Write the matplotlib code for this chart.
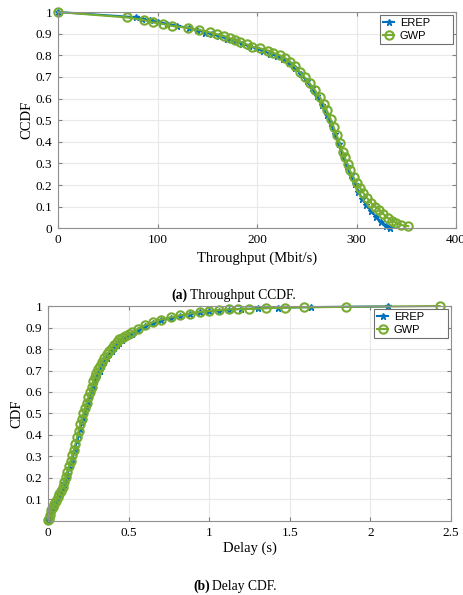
import matplotlib
matplotlib.use('Agg')
import matplotlib.pyplot as plt

# throughput CCDF
thr_erep = [0, 78, 84, 92, 100, 110, 120, 132, 140, 148, 155, 162, 170, 178, 185, 192,
            199, 206, 213, 220, 226, 232, 238, 244, 250, 255, 260, 265, 270, 274, 278,
            282, 286, 290, 294, 298, 302, 306, 310, 315, 320, 325, 330, 334]
ccdf_erep = [1.0, 0.976, 0.970, 0.962, 0.955, 0.945, 0.937, 0.925, 0.915, 0.905, 0.897,
             0.888, 0.876, 0.864, 0.853, 0.842, 0.832, 0.820, 0.808, 0.796, 0.784, 0.766,
             0.743, 0.714, 0.680, 0.648, 0.610, 0.570, 0.526, 0.485, 0.438, 0.388, 0.338,
             0.288, 0.245, 0.205, 0.168, 0.135, 0.106, 0.078, 0.052, 0.030, 0.012, 0.003]
thr_gwp = [0, 69, 86, 95, 106, 115, 131, 142, 153, 160, 167, 173, 178, 183, 190, 195,
           203, 211, 216, 223, 228, 233, 238, 243, 248, 253, 258, 263, 267, 270, 274,
           277, 280, 283, 286, 288, 291, 293, 297, 300, 304, 307, 311, 315, 319, 323,
           327, 332, 336, 340, 345, 352]
ccdf_gwp = [1.0, 0.975, 0.963, 0.952, 0.944, 0.935, 0.927, 0.917, 0.906, 0.897, 0.889,
            0.878, 0.870, 0.863, 0.850, 0.840, 0.832, 0.822, 0.812, 0.800, 0.787, 0.770,
            0.750, 0.724, 0.698, 0.670, 0.640, 0.608, 0.575, 0.547, 0.505, 0.470, 0.432,
            0.393, 0.355, 0.330, 0.297, 0.270, 0.237, 0.208, 0.185, 0.163, 0.138, 0.116,
            0.100, 0.085, 0.066, 0.046, 0.034, 0.024, 0.015, 0.010]

# delay CDF
delay_erep = [0.002, 0.005, 0.01, 0.02, 0.03, 0.04, 0.05, 0.06, 0.07, 0.08, 0.09, 0.10,
              0.11, 0.12, 0.13, 0.14, 0.15, 0.16, 0.17, 0.18, 0.19, 0.20, 0.21, 0.22,
              0.23, 0.24, 0.25, 0.26, 0.27, 0.28, 0.29, 0.30, 0.31, 0.32, 0.335, 0.35,
              0.365, 0.38, 0.395, 0.41, 0.425, 0.44, 0.46, 0.48, 0.50, 0.52, 0.56, 0.60,
              0.65, 0.70, 0.76, 0.82, 0.88, 0.94, 1.00, 1.06, 1.12, 1.20, 1.30, 1.43,
              1.63, 2.11]
cdf_erep = [0.005, 0.01, 0.03, 0.05, 0.065, 0.08, 0.095, 0.11, 0.125, 0.14, 0.155, 0.175,
            0.195, 0.22, 0.245, 0.27, 0.295, 0.32, 0.345, 0.37, 0.40, 0.43, 0.455, 0.48,
            0.505, 0.53, 0.555, 0.58, 0.605, 0.63, 0.65, 0.67, 0.685, 0.70, 0.72, 0.74,
            0.758, 0.775, 0.79, 0.805, 0.818, 0.83, 0.843, 0.855, 0.864, 0.872, 0.89,
            0.905, 0.92, 0.933, 0.944, 0.955, 0.963, 0.970, 0.975, 0.979, 0.983, 0.986,
            0.989, 0.992, 0.995, 0.998]
delay_gwp = [0.002, 0.005, 0.01, 0.02, 0.03, 0.04, 0.05, 0.06, 0.07, 0.08, 0.09, 0.10,
             0.11, 0.12, 0.13, 0.14, 0.15, 0.16, 0.17, 0.18, 0.19, 0.20, 0.21, 0.22,
             0.23, 0.24, 0.25, 0.26, 0.27, 0.28, 0.29, 0.30, 0.31, 0.32, 0.335, 0.35,
             0.365, 0.38, 0.395, 0.41, 0.425, 0.44, 0.46, 0.48, 0.50, 0.52, 0.56, 0.60,
             0.65, 0.70, 0.76, 0.82, 0.88, 0.94, 1.00, 1.06, 1.12, 1.18, 1.25, 1.35,
             1.47, 1.59, 1.85, 2.43]
cdf_gwp = [0.005, 0.01, 0.03, 0.05, 0.065, 0.08, 0.095, 0.11, 0.125, 0.14, 0.16, 0.18,
           0.205, 0.23, 0.255, 0.28, 0.305, 0.33, 0.36, 0.39, 0.42, 0.45, 0.475, 0.50,
           0.525, 0.55, 0.575, 0.60, 0.625, 0.65, 0.67, 0.69, 0.705, 0.72, 0.74, 0.76,
           0.775, 0.79, 0.805, 0.82, 0.833, 0.845, 0.853, 0.86, 0.87, 0.877, 0.895,
           0.91, 0.925, 0.937, 0.947, 0.957, 0.965, 0.972, 0.977, 0.981, 0.984, 0.986,
           0.987, 0.990, 0.992, 0.994, 0.996, 1.0]

blue = '#0072BD'
green = '#77AC30'
serif = 'Liberation Serif'
sans = 'Liberation Sans'

fig = plt.figure(figsize=(4.63, 5.95), dpi=100)
ax1 = fig.add_axes([0.1253, 0.6163, 0.8596, 0.3635])
ax2 = fig.add_axes([0.1037, 0.1244, 0.8703, 0.3613])


def style(ax):
    ax.grid(True, color='#e8e8e8', linewidth=0.8)
    ax.set_axisbelow(True)
    ax.tick_params(direction='in', top=True, right=True, length=3,
                   color='#808080', labelsize=9.5, pad=4)
    for s in ax.spines.values():
        s.set_color('#909090')
        s.set_linewidth(0.8)
    for lab in ax.get_xticklabels() + ax.get_yticklabels():
        lab.set_fontfamily(serif)


def add_legend(ax, x0, w, top):
    leg = ax.legend(loc='upper left', bbox_to_anchor=(x0, 0, w, top), mode='expand',
                    borderaxespad=0, prop={'family': sans, 'size': 8}, frameon=True,
                    fancybox=False, handlelength=1.0, handletextpad=0.5,
                    borderpad=0.3, labelspacing=0.2)
    leg.get_frame().set_edgecolor('#707070')
    leg.get_frame().set_linewidth(0.8)
    leg.get_frame().set_alpha(1)
    leg.set_zorder(10)


# (a) throughput
ax1.plot(thr_erep, ccdf_erep, '-*', color=blue, ms=5, lw=1.5, label='EREP',
         clip_on=False)
ax1.plot(thr_gwp, ccdf_gwp, '-o', color=green, ms=6, mew=1.5, mfc='none',
         lw=1.5, label='GWP', clip_on=False)
ax1.set_xlim(0, 400)
ax1.set_ylim(0, 1)
ax1.set_xticks([0, 100, 200, 300, 400])
ax1.set_yticks([0, 0.1, 0.2, 0.3, 0.4, 0.5, 0.6, 0.7, 0.8, 0.9, 1])
ax1.set_yticklabels(['0', '0.1', '0.2', '0.3', '0.4', '0.5', '0.6', '0.7', '0.8', '0.9', '1'])
style(ax1)
ax1.set_xlabel('Throughput (Mbit/s)', fontfamily=serif, fontsize=10.5, labelpad=4)
ax1.set_ylabel('CCDF', fontfamily=serif, fontsize=10.5, labelpad=2)
add_legend(ax1, 0.809, 0.183, 0.986)

# (b) delay
ax2.plot(delay_erep, cdf_erep, '-*', color=blue, ms=5, lw=1.5, label='EREP',
         clip_on=False)
ax2.plot(delay_gwp, cdf_gwp, '-o', color=green, ms=6, mew=1.5, mfc='none',
         lw=1.5, label='GWP', clip_on=False)
ax2.set_xlim(0, 2.5)
ax2.set_ylim(0, 1)
ax2.set_xticks([0, 0.5, 1, 1.5, 2, 2.5])
ax2.set_xticklabels(['0', '0.5', '1', '1.5', '2', '2.5'])
ax2.set_yticks([0.1, 0.2, 0.3, 0.4, 0.5, 0.6, 0.7, 0.8, 0.9, 1])
ax2.set_yticklabels(['0.1', '0.2', '0.3', '0.4', '0.5', '0.6', '0.7', '0.8', '0.9', '1'])
style(ax2)
ax2.set_xlabel('Delay (s)', fontfamily=serif, fontsize=10.5, labelpad=2)
ax2.set_ylabel('CDF', fontfamily=serif, fontsize=10.5, labelpad=2)
add_legend(ax2, 0.809, 0.184, 0.986)

# captions
fig.text(0.406, 0.5042, '(a)', ha='right', va='center', fontfamily=serif,
         fontweight='bold', fontsize=9.8)
fig.text(0.410, 0.5042, 'Throughput CCDF.', ha='left', va='center',
         fontfamily=serif, fontsize=9.8)
fig.text(0.4535, 0.0151, '(b)', ha='right', va='center', fontfamily=serif,
         fontweight='bold', fontsize=9.8)
fig.text(0.4575, 0.0151, 'Delay CDF.', ha='left', va='center',
         fontfamily=serif, fontsize=9.8)

fig.savefig('out.png', dpi=100)
